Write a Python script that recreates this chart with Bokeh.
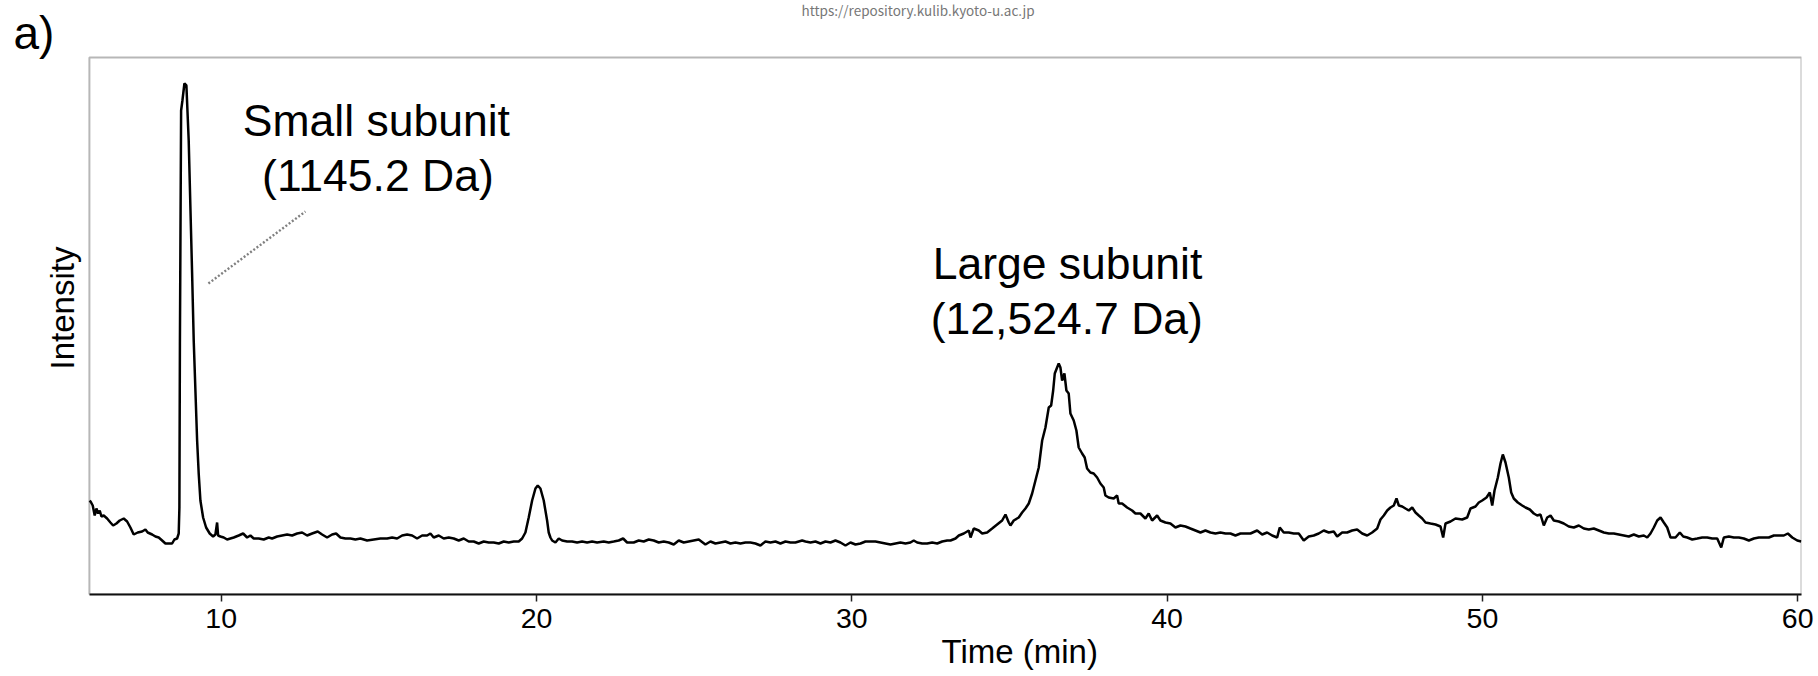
import math
from bokeh.plotting import figure
from bokeh.models import Range1d, FixedTicker, Label, BoxAnnotation, Title
from bokeh.embed import file_html
from bokeh.resources import INLINE

# ---- data (time in min, intensity in arbitrary units) ----
time_min = [
    5.830, 5.874, 5.925, 5.988, 6.042, 6.096, 6.147, 6.201, 6.274, 6.381, 6.486, 6.572,
    6.676, 6.781, 6.908, 7.016, 7.120, 7.225, 7.352, 7.491, 7.596, 7.669, 7.809, 7.913,
    8.018, 8.126, 8.230, 8.335, 8.443, 8.516, 8.601, 8.652, 8.674, 8.690, 8.728, 8.770,
    8.833, 8.896, 8.969, 9.023, 9.077, 9.128, 9.236, 9.286, 9.340, 9.426, 9.521, 9.635,
    9.743, 9.816, 9.870, 9.902, 9.975, 10.080, 10.187, 10.292, 10.397, 10.555, 10.695,
    10.822, 10.926, 11.031, 11.190, 11.348, 11.507, 11.614, 11.773, 11.932, 12.090,
    12.249, 12.408, 12.566, 12.725, 12.883, 13.061, 13.200, 13.359, 13.518, 13.644,
    13.781, 13.939, 14.098, 14.256, 14.415, 14.627, 14.837, 15.049, 15.262, 15.421,
    15.579, 15.738, 15.896, 16.055, 16.213, 16.372, 16.531, 16.635, 16.740, 16.899,
    17.057, 17.216, 17.375, 17.533, 17.692, 17.850, 18.009, 18.167, 18.326, 18.484,
    18.643, 18.802, 18.960, 19.119, 19.277, 19.436, 19.544, 19.648, 19.753, 19.861,
    19.966, 20.039, 20.124, 20.229, 20.336, 20.387, 20.441, 20.495, 20.600, 20.705,
    20.812, 20.971, 21.129, 21.288, 21.446, 21.605, 21.764, 21.922, 22.132, 22.290,
    22.449, 22.607, 22.747, 22.874, 23.083, 23.242, 23.400, 23.559, 23.718, 23.876,
    24.035, 24.193, 24.352, 24.511, 24.669, 24.828, 24.986, 25.145, 25.357, 25.516,
    25.674, 25.833, 25.992, 26.150, 26.309, 26.467, 26.626, 26.785, 26.943, 27.102,
    27.260, 27.419, 27.578, 27.736, 27.895, 28.053, 28.212, 28.317, 28.425, 28.530,
    28.688, 28.847, 29.006, 29.164, 29.323, 29.481, 29.640, 29.799, 29.957, 30.116,
    30.274, 30.433, 30.592, 30.750, 30.909, 31.067, 31.226, 31.385, 31.543, 31.702,
    31.860, 31.965, 32.073, 32.232, 32.390, 32.549, 32.708, 32.866, 33.025, 33.130,
    33.289, 33.394, 33.552, 33.711, 33.765, 33.869, 34.027, 34.135, 34.292, 34.451,
    34.609, 34.768, 34.873, 34.978, 35.031, 35.136, 35.294, 35.402, 35.507, 35.612,
    35.719, 35.824, 35.929, 36.037, 36.141, 36.246, 36.322, 36.386, 36.437, 36.511,
    36.562, 36.616, 36.670, 36.743, 36.806, 36.879, 36.933, 37.038, 37.123, 37.196,
    37.304, 37.386, 37.462, 37.567, 37.672, 37.780, 37.884, 37.989, 38.043, 38.147,
    38.306, 38.414, 38.465, 38.573, 38.731, 38.890, 38.995, 39.153, 39.312, 39.416,
    39.524, 39.683, 39.788, 39.946, 40.105, 40.264, 40.422, 40.581, 40.739, 40.898,
    41.057, 41.215, 41.374, 41.532, 41.691, 41.850, 42.008, 42.167, 42.325, 42.484,
    42.643, 42.855, 43.014, 43.172, 43.331, 43.490, 43.572, 43.699, 43.858, 44.016,
    44.175, 44.333, 44.492, 44.651, 44.809, 44.968, 45.126, 45.285, 45.393, 45.551,
    45.710, 45.869, 46.027, 46.186, 46.345, 46.503, 46.662, 46.767, 46.872, 46.980,
    47.084, 47.189, 47.275, 47.348, 47.456, 47.560, 47.665, 47.773, 47.877, 47.982,
    48.090, 48.195, 48.353, 48.512, 48.671, 48.755, 48.829, 48.988, 49.146, 49.359,
    49.517, 49.622, 49.781, 49.885, 49.993, 50.130, 50.234, 50.311, 50.384, 50.489,
    50.574, 50.647, 50.732, 50.837, 50.913, 50.995, 51.122, 51.261, 51.366, 51.503,
    51.630, 51.737, 51.842, 51.947, 52.055, 52.160, 52.264, 52.423, 52.581, 52.740,
    52.899, 53.057, 53.216, 53.374, 53.533, 53.692, 53.850, 54.009, 54.167, 54.326,
    54.485, 54.643, 54.802, 54.960, 55.119, 55.227, 55.331, 55.436, 55.544, 55.649,
    55.753, 55.861, 55.966, 56.124, 56.261, 56.369, 56.496, 56.654, 56.813, 56.971,
    57.130, 57.289, 57.447, 57.574, 57.657, 57.816, 57.974, 58.133, 58.291, 58.450,
    58.609, 58.767, 58.926, 59.084, 59.243, 59.402, 59.560, 59.687, 59.827, 59.985,
    60.112,
]

intensity = [
    94, 92, 89, 79, 86, 81, 84, 78, 79, 76, 72, 69,
    71, 74, 76, 73, 67, 60, 62, 63, 65, 62, 60, 58,
    57, 54, 51, 51, 51, 55, 56, 61, 87, 250, 484, 494,
    511, 509, 454, 387, 321, 254, 154, 121, 94, 77, 67, 61,
    58, 60, 72, 59, 58, 57, 55, 56, 57, 59, 61,
    57, 59, 56, 56, 55, 57, 56, 58, 59, 60,
    59, 61, 62, 59, 61, 63, 60, 57, 60, 61,
    57, 56, 56, 55, 56, 54, 55, 56, 56, 57,
    56, 59, 60, 59, 56, 59, 59, 61, 57, 59,
    56, 57, 56, 54, 56, 53, 53, 51, 53, 52,
    52, 51, 53, 52, 53, 53, 56, 62, 77, 94,
    106, 109, 106, 94, 74, 62, 57, 54, 52, 56,
    54, 53, 53, 52, 53, 52, 53, 52, 53, 52,
    53, 54, 56, 52, 52, 54, 53, 55, 54, 52,
    53, 52, 50, 54, 52, 53, 54, 55, 50, 53,
    51, 52, 53, 51, 52, 51, 52, 52, 51, 49,
    53, 52, 53, 51, 53, 52, 52, 53, 54, 53,
    52, 53, 51, 53, 52, 54, 52, 49, 52, 50,
    51, 53, 53, 53, 52, 51, 50, 51, 52, 51,
    52, 54, 52, 51, 51, 52, 51, 53, 54, 54,
    56, 59, 61, 64, 57, 66, 64, 61, 62, 66,
    70, 74, 80, 72, 69, 74, 77, 82, 86, 91,
    101, 114, 127, 154, 167, 187, 189, 204, 221, 227,
    231, 227, 214, 221, 204, 201, 181, 174, 164, 147,
    141, 137, 126, 122, 121, 117, 111, 107, 99, 97,
    96, 99, 91, 91, 87, 84, 81, 81, 76, 81,
    74, 79, 74, 72, 71, 67, 69, 68, 66, 64,
    62, 64, 62, 61, 62, 61, 61, 59, 61, 61,
    61, 64, 60, 62, 59, 57, 67, 62, 62, 61,
    61, 54, 58, 59, 61, 64, 62, 63, 58, 62,
    62, 64, 65, 61, 59, 62, 66, 75, 79, 84,
    87, 89, 96, 89, 88, 86, 84, 87, 82, 79,
    76, 72, 71, 70, 68, 57, 71, 73, 76, 75,
    77, 86, 88, 92, 94, 97, 102, 89, 104, 117,
    131, 140, 132, 117, 102, 96, 92, 89, 87, 85,
    81, 79, 80, 69, 77, 79, 74, 73, 71, 68,
    67, 69, 66, 65, 66, 64, 62, 61, 61, 60,
    59, 58, 60, 58, 59, 57, 61, 67, 74, 77,
    72, 67, 57, 57, 62, 58, 57, 55, 56, 57,
    57, 56, 56, 47, 57, 58, 57, 57, 56, 54,
    56, 57, 57, 57, 59, 59, 59, 61, 57, 54,
    53,
]

x_ticks = [10, 20, 30, 40, 50, 60]

# plot box (data limits of the drawn axes box)
box_time = (5.82, 60.12)
box_intensity = (0, 537)

FONT = "Liberation Sans"

p = figure(
    width=1818, height=676,
    x_range=Range1d(3.0, 60.12), y_range=Range1d(0, 594),
    output_backend="svg", toolbar_location=None,
    y_axis_location=None,
    min_border_left=0, min_border_right=17, min_border_top=0, min_border_bottom=82,
)
p.background_fill_color = "white"
p.border_fill_color = "white"
p.outline_line_color = None
p.xgrid.visible = False
p.ygrid.visible = False

# the axes box
p.add_layout(BoxAnnotation(left=box_time[0], right=box_time[1],
                           bottom=box_intensity[0], top=box_intensity[1],
                           fill_alpha=0, line_color="#111111", line_width=2))

ax = p.xaxis[0]
ax.bounds = box_time
ax.ticker = FixedTicker(ticks=x_ticks)
ax.minor_tick_line_color = None
ax.major_tick_in = 0
ax.major_tick_out = 7
ax.major_tick_line_color = "#222222"
ax.major_tick_line_width = 1.5
ax.axis_line_color = "#111111"
ax.axis_line_width = 2
ax.major_label_standoff = 7
ax.major_label_text_font = FONT
ax.major_label_text_font_size = "28.5px"
ax.major_label_text_color = "#000000"

# x axis title, below the tick labels
p.add_layout(Title(text="Time (min)", align="left", offset=941, standoff=0,
                   text_font=FONT, text_font_size="33px", text_font_style="normal",
                   text_color="black"), "below")

# chromatogram trace
p.line(time_min, intensity, line_color="black", line_width=2.5)

# dotted leader line for the small subunit
p.line([9.594, 12.671], [311, 383], line_color="#808080", line_width=2.4, line_dash="2 2")

def add_label(x, y, text, size, align="center", angle=0.0, color="black", font=FONT):
    p.add_layout(Label(x=x, y=y, text=text, text_font=font, text_font_size=size,
                       text_align=align, text_baseline="middle", angle=angle,
                       text_color=color))

add_label(14.92, 474, "Small subunit", "44.5px")
add_label(14.97, 419, "(1145.2 Da)", "44.5px")
add_label(36.84, 331, "Large subunit", "44.5px")
add_label(36.82, 276, "(12,524.7 Da)", "44.5px")
add_label(4.973, 286.5, "Intensity", "33px", angle=math.pi / 2)
add_label(3.41, 562, "a)", "46px", align="left")
add_label(32.10, 585, "https://repository.kulib.kyoto-u.ac.jp", "13.5px",
          color="#777777", font="Noto Sans CJK JP")

open("out.html", "w").write(file_html(p, INLINE))
